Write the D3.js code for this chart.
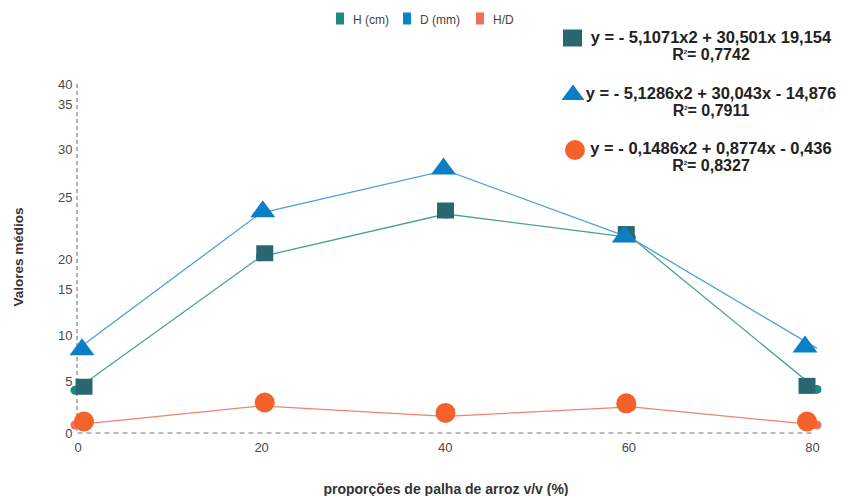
<!DOCTYPE html>
<html>
<head>
<meta charset="utf-8">
<script src="https://cdn.jsdelivr.net/npm/d3@7"></script>
<style>
  html, body { margin: 0; padding: 0; background: #fff; }
  svg { display: block; font-family: "Liberation Sans", Arial, sans-serif; }
</style>
</head>
<body>
<svg id="chart" width="843" height="496"></svg>
<script>
// Proportions of rice straw (v/v %)
const proportions = [0, 20, 40, 60, 80];
// Mean values per series
const heightCm   = [4.9, 20.2, 25.1, 22.4, 5.0];
const diameterMm = [9.4, 25.2, 30.1, 22.3, 9.7];
const ratioHD    = [0.92, 3.1, 1.9, 3.0, 0.92];

const xTicks = [0, 20, 40, 60, 80];
const yTicks = [0, 5, 10, 15, 20, 25, 30, 35, 40];
// Height (in axis units) at which each y tick label is printed
const yTickLabelAt = [0, 5.96, 11.23, 16.5, 19.94, 27.05, 32.55, 37.7, 40];

const seriesNames = ["H (cm)", "D (mm)", "H/D"];
const equations = [
  "y = - 5,1071x2 + 30,501x 19,154",
  "y = - 5,1286x2 + 30,043x - 14,876",
  "y = - 0,1486x2 + 0,8774x - 0,436"
];
const rSquared = ["0,7742", "0,7911", "0,8327"];

const svg = d3.select("#chart");

// Scales
const x = d3.scaleLinear().domain([0, 80]).range([77.5, 812]);
const xLine = d3.scaleLinear().domain([0, 80]).range([75, 817]);
const xMark = d3.scaleLinear().domain([0, 80]).range([84, 807]);
const y = d3.scaleLinear().domain([0, 40]).range([433, 84]);
const yMark = v => y(v) - 3.5;

// Axes (dashed)
svg.append("line")
  .attr("x1", x(0) - 0.5).attr("x2", x(0) - 0.5)
  .attr("y1", y(40)).attr("y2", y(0))
  .attr("stroke", "#9a9a9a").attr("stroke-width", 1.5)
  .attr("stroke-dasharray", "4,3");
svg.append("line")
  .attr("x1", x(0)).attr("x2", x(80) + 1)
  .attr("y1", y(0)).attr("y2", y(0))
  .attr("stroke", "#777").attr("stroke-width", 1.2)
  .attr("stroke-dasharray", "5,4");

// Y tick labels
svg.append("g").selectAll("text")
  .data(yTicks)
  .join("text")
  .attr("x", 72.5)
  .attr("y", (d, i) => y(yTickLabelAt[i]))
  .attr("dy", "0.35em")
  .attr("text-anchor", "end")
  .attr("font-size", 13)
  .attr("fill", "#4a4a4a")
  .text(d => d);

// X tick labels
const xAxis = d3.axisBottom(x).tickValues(xTicks).tickSize(0).tickPadding(0);
const gx = svg.append("g").attr("transform", `translate(0,${y(0) + 9.5})`).call(xAxis);
gx.select(".domain").remove();
gx.selectAll("text")
  .attr("font-family", "Liberation Sans, Arial, sans-serif")
  .attr("font-size", 13)
  .attr("fill", "#4a4a4a");

// Axis titles
svg.append("text")
  .attr("transform", "translate(23,257) rotate(-90)")
  .attr("text-anchor", "middle")
  .attr("font-size", 13.5).attr("font-weight", "bold").attr("fill", "#333")
  .text("Valores médios");
svg.append("text")
  .attr("x", 446).attr("y", 494)
  .attr("text-anchor", "middle")
  .attr("font-size", 14).attr("font-weight", "bold").attr("fill", "#333")
  .text("proporções de palha de arroz v/v (%)");

// Series
const series = [
  { name: seriesNames[0], values: heightCm,   line: "#46a394", dot: "#1e8c7d", mark: "#2b6770", shape: "square",   dots: true },
  { name: seriesNames[1], values: diameterMm, line: "#4aa3dc", dot: "#0a84c8", mark: "#0b7fc5", shape: "triangle", dots: false },
  { name: seriesNames[2], values: ratioHD,    line: "#f08270", dot: "#ee7059", mark: "#f4622b", shape: "circle",   dots: true }
];

const lineGen = d3.line()
  .x(d => xLine(d.p))
  .y(d => y(d.v));

series.forEach(s => {
  const pts = proportions.map((p, i) => ({ p, v: s.values[i] }));
  svg.append("path")
    .datum(pts)
    .attr("d", lineGen)
    .attr("fill", "none")
    .attr("stroke", s.line)
    .attr("stroke-width", 1.3);
  if (s.dots) {
    svg.append("g").selectAll("circle")
      .data(pts)
      .join("circle")
      .attr("cx", d => xLine(d.p))
      .attr("cy", d => y(d.v))
      .attr("r", 4.5)
      .attr("fill", s.dot);
  }
});

// Large markers
function drawMarker(g, shape, color, cx, cy, scale) {
  const k = scale || 1;
  if (shape === "square") {
    g.append("rect")
      .attr("x", cx - 8.5 * k).attr("y", cy - 8 * k)
      .attr("width", 17 * k).attr("height", 16 * k)
      .attr("fill", color);
  } else if (shape === "triangle") {
    const w = 12.5 * k, h = 17 * k;
    g.append("path")
      .attr("d", `M${cx},${cy - h * 0.55}L${cx + w},${cy + h * 0.45}L${cx - w},${cy + h * 0.45}Z`)
      .attr("fill", color);
  } else {
    g.append("circle")
      .attr("cx", cx).attr("cy", cy).attr("r", 10 * k)
      .attr("fill", color);
  }
}

const markG = svg.append("g");
series.forEach(s => {
  const dx = s.shape === "triangle" ? -2 : 0;
  proportions.forEach((p, i) => {
    drawMarker(markG, s.shape, s.mark, xMark(p) + dx, yMark(s.values[i]));
  });
});

// Legend
const legend = svg.append("g");
const legendX = [336, 403, 476];
series.forEach((s, i) => {
  legend.append("rect")
    .attr("x", legendX[i]).attr("y", 12.5)
    .attr("width", 8).attr("height", 12)
    .attr("fill", s.dot);
  legend.append("text")
    .attr("x", legendX[i] + 17).attr("y", 23.5)
    .attr("font-size", 12).attr("fill", "#444")
    .text(s.name);
});

// Fitted equations
const eqG = svg.append("g");
const eqRows = [
  { top: 42.5, mark: { x: 572.5, y: 38 } },
  { top: 98.5, mark: { x: 573, y: 93 } },
  { top: 153.5, mark: { x: 575, y: 150 } }
];
series.forEach((s, i) => {
  const row = eqRows[i];
  if (s.shape === "square") {
    eqG.append("rect").attr("x", row.mark.x - 9.5).attr("y", row.mark.y - 8.5)
      .attr("width", 19).attr("height", 17).attr("fill", s.mark);
  } else {
    drawMarker(eqG, s.shape, s.mark, row.mark.x, row.mark.y, s.shape === "triangle" ? 0.92 : 1);
  }
  eqG.append("text")
    .attr("x", 711).attr("y", row.top)
    .attr("text-anchor", "middle")
    .attr("font-size", 16.5).attr("font-weight", "bold").attr("fill", "#222")
    .text(equations[i]);
  const r = eqG.append("text")
    .attr("x", 711).attr("y", row.top + 17.5)
    .attr("text-anchor", "middle")
    .attr("font-size", 16).attr("font-weight", "bold").attr("fill", "#222");
  r.append("tspan").text("R");
  r.append("tspan").attr("font-size", 6).attr("dy", -6).text("2");
  r.append("tspan").attr("dy", 6).text("= " + rSquared[i]);
});
</script>
</body>
</html>
